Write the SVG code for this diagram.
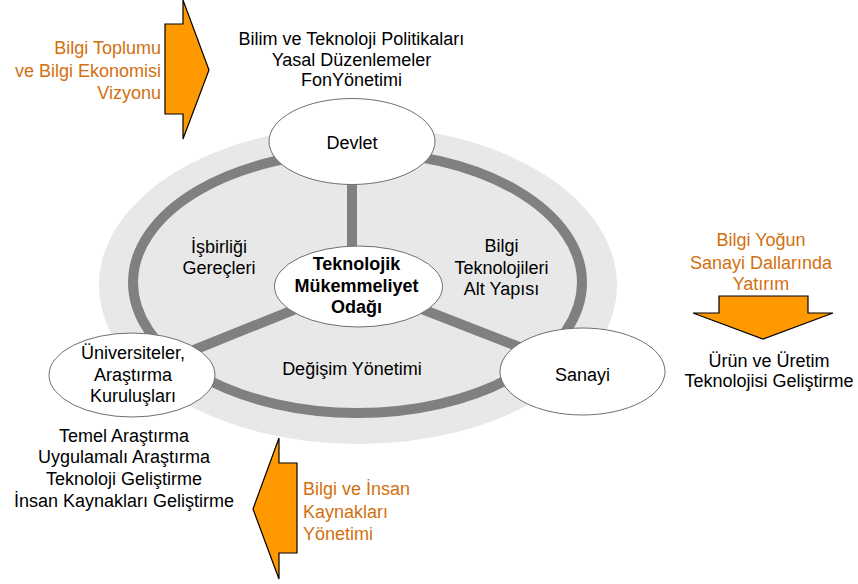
<svg xmlns="http://www.w3.org/2000/svg" width="858" height="584" viewBox="0 0 858 584">
  <style>
    text { font-family: "Liberation Sans", Arial, sans-serif; font-size: 18px; fill: #000; }
    .mid { text-anchor: middle; }
    .end { text-anchor: end; }
    .bold { font-weight: bold; }
    .orange { fill: #D2700F; }
    .node { fill: #FFFFFF; stroke: #6E6E6E; stroke-width: 1; }
    .bar { fill: none; stroke: #808080; stroke-width: 10; }
    .arrow { fill: #FF9900; stroke: #000; stroke-width: 1.2; stroke-linejoin: miter; }
  </style>

  <rect width="858" height="584" fill="#FFFFFF"/>

  <!-- backdrop disc and outer ring -->
  <g id="backdrop">
    <ellipse cx="358" cy="285" rx="259" ry="159" fill="#E8E8E8"/>
    <ellipse class="bar" cx="357.5" cy="282.5" rx="224.5" ry="130.5"/>
  </g>

  <!-- spokes joining the hub to the three partners -->
  <g id="connectors">
    <line class="bar" x1="352" y1="141" x2="352" y2="284"/>
    <line class="bar" x1="357.5" y1="284" x2="132" y2="375"/>
    <line class="bar" x1="357.5" y1="284" x2="582.5" y2="371.5"/>
  </g>

  <!-- sector labels inside the ring -->
  <g id="sector-labels">
    <text class="mid" x="219" y="253">İşbirliği</text>
    <text class="mid" x="219" y="274">Gereçleri</text>
    <text class="mid" x="501.5" y="252">Bilgi</text>
    <text class="mid" x="501.5" y="273.5">Teknolojileri</text>
    <text class="mid" x="501.5" y="295">Alt Yapısı</text>
    <text class="mid" x="352" y="375">Değişim Yönetimi</text>
  </g>

  <g id="devlet">
    <ellipse class="node" cx="352" cy="141.5" rx="83" ry="43"/>
    <text class="mid" x="352" y="148.5">Devlet</text>
  </g>

  <g id="merkez">
    <ellipse class="node" cx="358.5" cy="286.5" rx="84" ry="40.5"/>
    <text class="mid bold" x="356.5" y="270">Teknolojik</text>
    <text class="mid bold" x="356.5" y="291.7">Mükemmeliyet</text>
    <text class="mid bold" x="356.5" y="313.3">Odağı</text>
  </g>

  <g id="universiteler">
    <ellipse class="node" cx="132" cy="375" rx="83" ry="42"/>
    <text class="mid" x="133" y="358.5">Üniversiteler,</text>
    <text class="mid" x="133" y="380.5">Araştırma</text>
    <text class="mid" x="133" y="401.5">Kuruluşları</text>
  </g>

  <g id="sanayi">
    <ellipse class="node" cx="582.5" cy="371.5" rx="82.5" ry="43.5"/>
    <text class="mid" x="582.5" y="380.5">Sanayi</text>
  </g>

  <!-- government inputs -->
  <g id="devlet-girdi">
    <polygon class="arrow" points="165,24 183,24 183,0 209,70 183,139 183,114 165,114"/>
    <text class="end orange" x="161" y="54">Bilgi Toplumu</text>
    <text class="end orange" x="161" y="76.7">ve Bilgi Ekonomisi</text>
    <text class="end orange" x="161" y="99">Vizyonu</text>
    <text class="mid" x="351.5" y="45">Bilim ve Teknoloji Politikaları</text>
    <text class="mid" x="351.5" y="65.5">Yasal Düzenlemeler</text>
    <text class="mid" x="351.5" y="86">FonYönetimi</text>
  </g>

  <!-- industry inputs -->
  <g id="sanayi-girdi">
    <polygon class="arrow" points="719,296 808,296 808,313 833,313 763,339 693,313 719,313"/>
    <text class="mid orange" x="761" y="246">Bilgi Yoğun</text>
    <text class="mid orange" x="761" y="268.5">Sanayi Dallarında</text>
    <text class="mid orange" x="761" y="290">Yatırım</text>
    <text class="mid" x="769" y="366.7">Ürün ve Üretim</text>
    <text class="mid" x="769" y="386.7">Teknolojisi Geliştirme</text>
  </g>

  <!-- university inputs -->
  <g id="universite-girdi">
    <polygon class="arrow" points="297,463 279,463 279,438 253,509 279,579 279,553 297,553"/>
    <text class="orange" x="303" y="495">Bilgi ve İnsan</text>
    <text class="orange" x="303" y="517.7">Kaynakları</text>
    <text class="orange" x="303" y="540">Yönetimi</text>
    <text class="mid" x="124" y="441.7">Temel Araştırma</text>
    <text class="mid" x="124" y="463.3">Uygulamalı Araştırma</text>
    <text class="mid" x="124" y="485">Teknoloji Geliştirme</text>
    <text class="mid" x="124" y="507">İnsan Kaynakları Geliştirme</text>
  </g>
</svg>
